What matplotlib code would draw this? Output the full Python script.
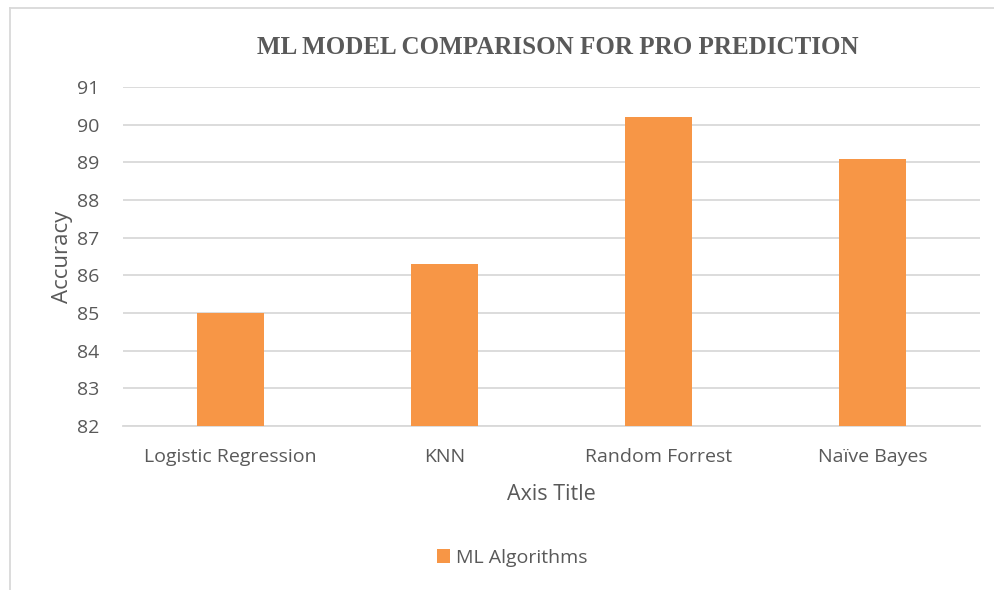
import matplotlib
matplotlib.use("Agg")
import matplotlib.pyplot as plt
from matplotlib.lines import Line2D

categories = ["Logistic Regression", "KNN", "Random Forrest", "Naïve Bayes"]
accuracy = [85.0, 86.3, 90.2, 89.1]
y_ticks = [82, 83, 84, 85, 86, 87, 88, 89, 90, 91]
series_name = "ML Algorithms"

W, H = 995, 590
fig = plt.figure(figsize=(W / 100, H / 100), dpi=100)
ax = fig.add_axes([123 / W, 1 - 426 / H, (980 - 123) / W, (426 - 87) / H])

orange = "#F79646"
txt = "#595959"
grid = "#D9D9D9"

x = list(range(len(categories)))
ax.bar(x, [a - 82 for a in accuracy], bottom=82, width=0.313, color=orange,
       label=series_name, zorder=3)
ax.set_xlim(-0.5, len(categories) - 0.5)
ax.set_ylim(82, 91)
ax.set_yticks(y_ticks)
ax.set_yticklabels([str(t) for t in y_ticks])
ax.set_xticks(x)
ax.set_xticklabels(categories)
ax.yaxis.grid(True, color=grid, linewidth=1.3, zorder=0)
ax.set_axisbelow(True)
for s in ["top", "right", "left"]:
    ax.spines[s].set_visible(False)
ax.spines["bottom"].set_color(grid)
ax.spines["bottom"].set_linewidth(1.3)
ax.tick_params(axis="both", length=0, colors=txt, labelsize=14)
ax.tick_params(axis="y", pad=17)
ax.tick_params(axis="x", pad=16)
for lab in ax.get_xticklabels() + ax.get_yticklabels():
    lab.set_fontfamily("Open Sans")
    lab.set_color(txt)

ax.set_ylabel("Accuracy", fontsize=16, color=txt, family="Open Sans", labelpad=3)
ax.set_xlabel("Axis Title", fontsize=15.5, color=txt, family="Open Sans", labelpad=13)

fig.text(558 / W, 1 - 48 / H, "ML MODEL COMPARISON FOR PRO PREDICTION",
         ha="center", va="center", fontsize=18, fontweight="bold",
         family="Liberation Serif", color=txt)

# chart border (left and top edges visible)
fig.add_artist(Line2D([10 / W, 10 / W], [0, 1 - 8 / H], transform=fig.transFigure,
                      color="#D9D9D9", linewidth=1.3))
fig.add_artist(Line2D([10 / W, 1], [1 - 8 / H, 1 - 8 / H], transform=fig.transFigure,
                      color="#D9D9D9", linewidth=1.3))

handles, labels = ax.get_legend_handles_labels()
leg = fig.legend(handles, labels, loc="center", bbox_to_anchor=(512 / W, 1 - 558 / H),
                 frameon=False, handlelength=0.7, handleheight=0.7, handletextpad=0.3,
                 prop={"family": "Open Sans", "size": 14})
for t in leg.get_texts():
    t.set_color(txt)

fig.savefig("out.png", dpi=100)
